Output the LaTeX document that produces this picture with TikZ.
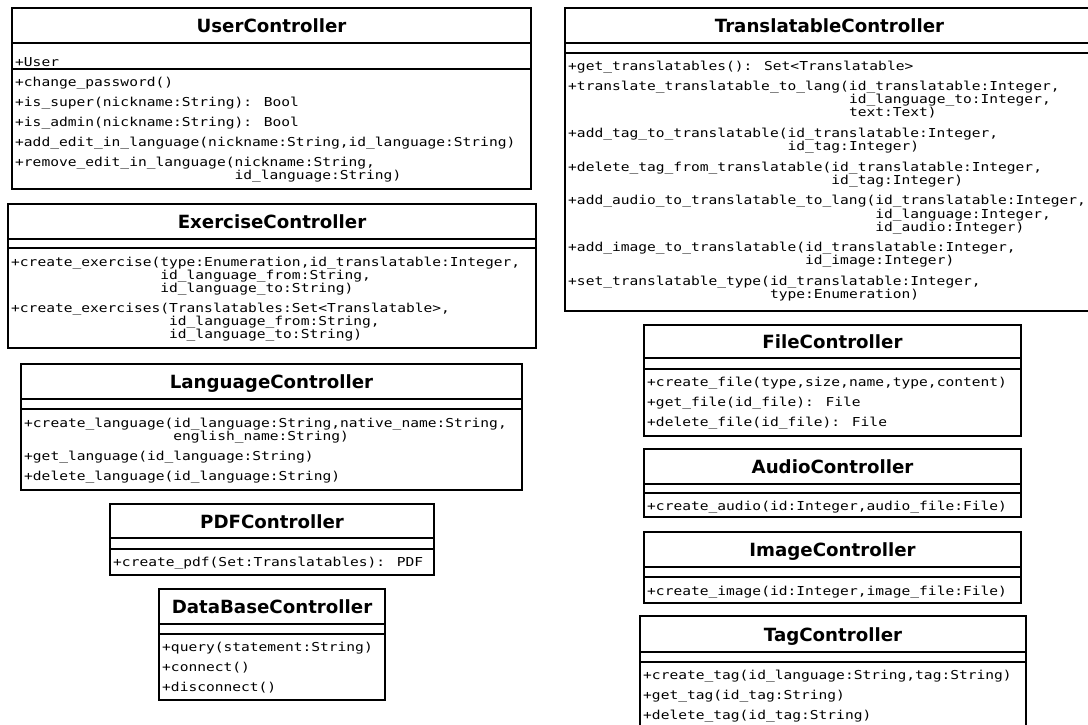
\documentclass[tikz,border=0pt]{standalone}
\usepackage{fontspec}
\newfontfamily\titlefont{DejaVu Sans}
\newfontfamily\memberfont{DejaVu Sans Mono}[FakeStretch=1.185]
\tikzset{
  classframe/.style={draw=black, line width=2.2pt, fill=white},
  classrule/.style={draw=black, line width=2.2pt},
  classname/.style={anchor=base, inner sep=0pt,
    font=\titlefont\bfseries\fontsize{18.2}{20}\selectfont},
  member/.style={anchor=base west, inner sep=0pt,
    font=\memberfont\fontsize{12.3}{13}\selectfont},
}
% #1 name, #2 left, #3 top, #4 right, #5 title rule, #6 attribute rule, #7 bottom, #8 class name
\newcommand\umlclass[8]{%
  \draw[classframe] (#2,#3) rectangle (#4,#7);
  \draw[classrule] (#2,#5) -- (#4,#5) (#2,#6) -- (#4,#6);
  \node[classname] (#1) at ({(#2+#4)/2},{(#3+#5)/2+7}) {#8};
}
\begin{document}
\begin{tikzpicture}[x=1pt, y=-1pt]
\useasboundingbox (0,0) rectangle (1088,724);
\clip (0,0) rectangle (1088,724);
\fill[white] (0,0) rectangle (1088,724);

% ---------------- left column ----------------
\umlclass{user}{12}{8}{531}{43}{69}{189}{UserController}
\node[member] (u1) at (15,66) {+User};
\node[member] (u2) at (15,86) {+change\_password()};
\node[member] (u3) at (15,106) {+is\_super(nickname:String): Bool};
\node[member] (u4) at (15,126) {+is\_admin(nickname:String): Bool};
\node[member] (u5) at (15,146) {+add\_edit\_in\_language(nickname:String,id\_language:String)};
\node[member] (u6) at (15,166) {+remove\_edit\_in\_language(nickname:String,};
\node[member] (u6b) at (15,179) {\hphantom{+remove\_edit\_in\_language(}id\_language:String)};

\umlclass{exercise}{8}{204}{536}{239}{248}{348}{ExerciseController}
\node[member] (e1) at (11,266) {+create\_exercise(type:Enumeration,id\_translatable:Integer,};
\node[member] (e1b) at (11,279) {\hphantom{+create\_exercise(}id\_language\_from:String,};
\node[member] (e1c) at (11,292) {\hphantom{+create\_exercise(}id\_language\_to:String)};
\node[member] (e2) at (11,312.5) {+create\_exercises(Translatables:Set<Translatable>,};
\node[member] (e2b) at (11,325.5) {\hphantom{+create\_exercises(}id\_language\_from:String,};
\node[member] (e2c) at (11,338.5) {\hphantom{+create\_exercises(}id\_language\_to:String)};

\umlclass{language}{21}{364}{522}{399}{409}{490}{LanguageController}
\node[member] (l1) at (24,427) {+create\_language(id\_language:String,native\_name:String,};
\node[member] (l1b) at (24,440) {\hphantom{+create\_language(}english\_name:String)};
\node[member] (l2) at (24,460) {+get\_language(id\_language:String)};
\node[member] (l3) at (24,480) {+delete\_language(id\_language:String)};

\umlclass{pdf}{110}{504}{434}{538}{549}{575}{PDFController}
\node[member] (p1) at (113,566) {+create\_pdf(Set:Translatables): PDF};

\umlclass{database}{159}{589}{385}{624}{634}{700}{DataBaseController}
\node[member] (d1) at (162,651) {+query(statement:String)};
\node[member] (d2) at (162,671) {+connect()};
\node[member] (d3) at (162,691) {+disconnect()};

% ---------------- right column ----------------
\umlclass{translatable}{565}{8}{1094}{43}{53}{311}{TranslatableController}
\node[member] (t1) at (568,70) {+get\_translatables(): Set<Translatable>};
\node[member] (t2) at (568,90.5) {+translate\_translatable\_to\_lang(id\_translatable:Integer,};
\node[member] (t2b) at (568,103.7) {\hphantom{+translate\_translatable\_to\_lang(}id\_language\_to:Integer,};
\node[member] (t2c) at (568,116.9) {\hphantom{+translate\_translatable\_to\_lang(}text:Text)};
\node[member] (t3) at (568,137.4) {+add\_tag\_to\_translatable(id\_translatable:Integer,};
\node[member] (t3b) at (568,150.6) {\hphantom{+add\_tag\_to\_translatable(}id\_tag:Integer)};
\node[member] (t4) at (568,171.1) {+delete\_tag\_from\_translatable(id\_translatable:Integer,};
\node[member] (t4b) at (568,184.3) {\hphantom{+delete\_tag\_from\_translatable(}id\_tag:Integer)};
\node[member] (t5) at (568,204.8) {+add\_audio\_to\_translatable\_to\_lang(id\_translatable:Integer,};
\node[member] (t5b) at (568,218) {\hphantom{+add\_audio\_to\_translatable\_to\_lang(}id\_language:Integer,};
\node[member] (t5c) at (568,231.2) {\hphantom{+add\_audio\_to\_translatable\_to\_lang(}id\_audio:Integer)};
\node[member] (t6) at (568,251.7) {+add\_image\_to\_translatable(id\_translatable:Integer,};
\node[member] (t6b) at (568,264.9) {\hphantom{+add\_image\_to\_translatable(}id\_image:Integer)};
\node[member] (t7) at (568,285.4) {+set\_translatable\_type(id\_translatable:Integer,};
\node[member] (t7b) at (568,298.6) {\hphantom{+set\_translatable\_type(}type:Enumeration)};

\umlclass{file}{644}{325}{1021}{358}{369}{436}{FileController}
\node[member] (f1) at (647,386) {+create\_file(type,size,name,type,content)};
\node[member] (f2) at (647,406) {+get\_file(id\_file): File};
\node[member] (f3) at (647,426) {+delete\_file(id\_file): File};

\umlclass{audio}{644}{449}{1021}{484}{493}{517}{AudioController}
\node[member] (a1) at (647,510) {+create\_audio(id:Integer,audio\_file:File)};

\umlclass{image}{644}{532}{1021}{567}{577}{603}{ImageController}
\node[member] (i1) at (647,595) {+create\_image(id:Integer,image\_file:File)};

\umlclass{tag}{640}{616}{1026}{652}{662}{735}{TagController}
\node[member] (g1) at (643,679) {+create\_tag(id\_language:String,tag:String)};
\node[member] (g2) at (643,699) {+get\_tag(id\_tag:String)};
\node[member] (g3) at (643,719) {+delete\_tag(id\_tag:String)};
\end{tikzpicture}
\end{document}
